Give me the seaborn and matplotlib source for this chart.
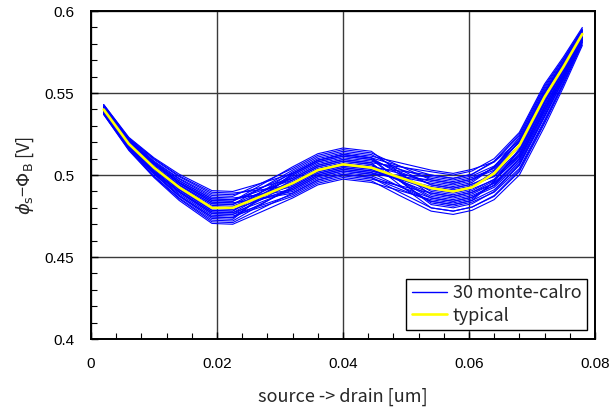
import numpy as np
import pandas as pd
import matplotlib
matplotlib.use("Agg")
import matplotlib.pyplot as plt
from matplotlib.lines import Line2D
from matplotlib.ticker import MultipleLocator
import seaborn as sns

# position along the channel [um]
x_pos = [0.002, 0.006, 0.010, 0.014, 0.0192, 0.0225, 0.027, 0.032, 0.036, 0.040,
         0.0445, 0.049, 0.054, 0.0575, 0.0605, 0.064, 0.068, 0.072, 0.075, 0.078]

# typical device
typical = [0.5400, 0.5190, 0.5045, 0.4925, 0.4800, 0.4800, 0.4870, 0.4950, 0.5030, 0.5065,
           0.5045, 0.4985, 0.4920, 0.4900, 0.4925, 0.5010, 0.5180, 0.5475, 0.5660, 0.5860]

# 30 monte-carlo samples
mc_runs = [
    [0.5410, 0.5205, 0.5070, 0.4955, 0.4845, 0.4840, 0.4920, 0.5010, 0.5090, 0.5125, 0.5105, 0.5055, 0.5000, 0.4980, 0.5005, 0.5080, 0.5240, 0.5535, 0.5705, 0.5890],
    [0.5380, 0.5165, 0.5010, 0.4875, 0.4745, 0.4740, 0.4825, 0.4920, 0.5000, 0.5035, 0.5015, 0.4930, 0.4840, 0.4820, 0.4845, 0.4910, 0.5060, 0.5355, 0.5580, 0.5820],
    [0.5405, 0.5200, 0.5055, 0.4940, 0.4825, 0.4820, 0.4920, 0.5030, 0.5110, 0.5145, 0.5125, 0.5035, 0.4940, 0.4920, 0.4945, 0.5005, 0.5150, 0.5445, 0.5640, 0.5850],
    [0.5370, 0.5155, 0.4990, 0.4855, 0.4715, 0.4710, 0.4795, 0.4890, 0.4970, 0.5005, 0.4985, 0.4895, 0.4800, 0.4780, 0.4805, 0.4870, 0.5020, 0.5315, 0.5550, 0.5800],
    [0.5425, 0.5220, 0.5095, 0.4990, 0.4885, 0.4880, 0.4925, 0.4980, 0.5060, 0.5095, 0.5075, 0.5050, 0.5020, 0.5000, 0.5025, 0.5100, 0.5260, 0.5555, 0.5720, 0.5900],
    [0.5390, 0.5180, 0.5025, 0.4900, 0.4775, 0.4770, 0.4865, 0.4970, 0.5050, 0.5085, 0.5065, 0.4970, 0.4870, 0.4850, 0.4875, 0.4935, 0.5080, 0.5375, 0.5595, 0.5830],
    [0.5415, 0.5210, 0.5075, 0.4965, 0.4855, 0.4850, 0.4885, 0.4930, 0.5010, 0.5045, 0.5025, 0.4975, 0.4920, 0.4900, 0.4925, 0.5025, 0.5210, 0.5505, 0.5680, 0.5870],
    [0.5390, 0.5175, 0.5020, 0.4895, 0.4765, 0.4760, 0.4815, 0.4880, 0.4960, 0.4995, 0.4975, 0.4935, 0.4890, 0.4870, 0.4895, 0.4965, 0.5120, 0.5415, 0.5620, 0.5840],
    [0.5400, 0.5190, 0.5045, 0.4925, 0.4805, 0.4800, 0.4895, 0.5000, 0.5080, 0.5115, 0.5095, 0.4965, 0.4830, 0.4810, 0.4835, 0.4895, 0.5040, 0.5335, 0.5565, 0.5810],
    [0.5420, 0.5220, 0.5085, 0.4980, 0.4875, 0.4870, 0.4950, 0.5040, 0.5120, 0.5155, 0.5135, 0.5055, 0.4970, 0.4950, 0.4975, 0.5045, 0.5200, 0.5495, 0.5680, 0.5880],
    [0.5375, 0.5160, 0.4995, 0.4860, 0.4725, 0.4720, 0.4820, 0.4930, 0.5010, 0.5045, 0.5025, 0.4990, 0.4950, 0.4930, 0.4955, 0.5050, 0.5230, 0.5525, 0.5695, 0.5880],
    [0.5410, 0.5200, 0.5065, 0.4950, 0.4835, 0.4830, 0.4860, 0.4900, 0.4980, 0.5015, 0.4995, 0.4930, 0.4860, 0.4840, 0.4865, 0.4940, 0.5100, 0.5395, 0.5605, 0.5830],
    [0.5395, 0.5180, 0.5035, 0.4910, 0.4785, 0.4780, 0.4880, 0.4990, 0.5070, 0.5105, 0.5085, 0.5035, 0.4980, 0.4960, 0.4985, 0.5040, 0.5180, 0.5475, 0.5660, 0.5860],
    [0.5430, 0.5230, 0.5105, 0.5005, 0.4905, 0.4900, 0.4950, 0.5010, 0.5090, 0.5125, 0.5105, 0.5005, 0.4900, 0.4880, 0.4905, 0.4975, 0.5130, 0.5425, 0.5625, 0.5840],
    [0.5385, 0.5170, 0.5015, 0.4885, 0.4755, 0.4750, 0.4805, 0.4870, 0.4950, 0.4985, 0.4965, 0.4875, 0.4780, 0.4760, 0.4785, 0.4850, 0.5000, 0.5295, 0.5535, 0.5790],
    [0.5400, 0.5195, 0.5050, 0.4935, 0.4815, 0.4810, 0.4880, 0.4960, 0.5040, 0.5075, 0.5055, 0.5010, 0.4960, 0.4940, 0.4965, 0.5050, 0.5220, 0.5515, 0.5690, 0.5880],
    [0.5380, 0.5160, 0.5005, 0.4870, 0.4735, 0.4730, 0.4865, 0.5010, 0.5090, 0.5125, 0.5105, 0.4965, 0.4820, 0.4800, 0.4825, 0.4900, 0.5060, 0.5355, 0.5580, 0.5820],
    [0.5420, 0.5215, 0.5080, 0.4975, 0.4865, 0.4860, 0.4880, 0.4910, 0.4990, 0.5025, 0.5005, 0.5000, 0.4990, 0.4970, 0.4995, 0.5055, 0.5200, 0.5495, 0.5675, 0.5870],
    [0.5400, 0.5185, 0.5040, 0.4915, 0.4795, 0.4790, 0.4850, 0.4920, 0.5000, 0.5035, 0.5015, 0.4975, 0.4930, 0.4910, 0.4935, 0.4995, 0.5140, 0.5435, 0.5635, 0.5850],
    [0.5410, 0.5205, 0.5070, 0.4955, 0.4845, 0.4840, 0.4940, 0.5050, 0.5130, 0.5165, 0.5145, 0.5015, 0.4880, 0.4860, 0.4885, 0.4950, 0.5100, 0.5395, 0.5605, 0.5830],
    [0.5370, 0.5150, 0.4985, 0.4845, 0.4705, 0.4700, 0.4775, 0.4860, 0.4940, 0.4975, 0.4955, 0.4905, 0.4850, 0.4830, 0.4855, 0.4960, 0.5150, 0.5445, 0.5640, 0.5850],
    [0.5405, 0.5200, 0.5055, 0.4940, 0.4825, 0.4820, 0.4895, 0.4980, 0.5060, 0.5095, 0.5075, 0.4940, 0.4800, 0.4780, 0.4805, 0.4875, 0.5030, 0.5325, 0.5560, 0.5810],
    [0.5390, 0.5175, 0.5020, 0.4895, 0.4765, 0.4760, 0.4850, 0.4950, 0.5030, 0.5065, 0.5045, 0.5025, 0.5000, 0.4980, 0.5005, 0.5085, 0.5250, 0.5545, 0.5710, 0.5890],
    [0.5430, 0.5225, 0.5100, 0.4995, 0.4895, 0.4890, 0.4910, 0.4940, 0.5020, 0.5055, 0.5035, 0.4965, 0.4890, 0.4870, 0.4895, 0.4950, 0.5090, 0.5385, 0.5595, 0.5820],
    [0.5380, 0.5165, 0.5010, 0.4875, 0.4745, 0.4740, 0.4865, 0.5000, 0.5080, 0.5115, 0.5095, 0.5020, 0.4940, 0.4920, 0.4945, 0.4990, 0.5120, 0.5415, 0.5620, 0.5840],
    [0.5410, 0.5200, 0.5065, 0.4950, 0.4835, 0.4830, 0.4855, 0.4890, 0.4970, 0.5005, 0.4985, 0.4915, 0.4840, 0.4820, 0.4845, 0.4960, 0.5160, 0.5455, 0.5650, 0.5860],
    [0.5395, 0.5180, 0.5035, 0.4910, 0.4785, 0.4780, 0.4895, 0.5020, 0.5100, 0.5135, 0.5115, 0.5075, 0.5030, 0.5010, 0.5035, 0.5080, 0.5210, 0.5505, 0.5685, 0.5880],
    [0.5415, 0.5210, 0.5075, 0.4965, 0.4855, 0.4850, 0.4905, 0.4970, 0.5050, 0.5085, 0.5065, 0.4965, 0.4860, 0.4840, 0.4865, 0.4925, 0.5070, 0.5365, 0.5585, 0.5820],
    [0.5390, 0.5180, 0.5025, 0.4900, 0.4775, 0.4770, 0.4835, 0.4910, 0.4990, 0.5025, 0.5005, 0.4990, 0.4970, 0.4950, 0.4975, 0.5030, 0.5170, 0.5465, 0.5655, 0.5860],
    [0.5400, 0.5190, 0.5045, 0.4925, 0.4805, 0.4800, 0.4865, 0.4940, 0.5020, 0.5055, 0.5035, 0.4975, 0.4910, 0.4890, 0.4915, 0.4970, 0.5110, 0.5405, 0.5610, 0.5830],
]

x_ticks = [0, 0.02, 0.04, 0.06, 0.08]
x_tick_labels = ["0", "0.02", "0.04", "0.06", "0.08"]
y_ticks = [0.4, 0.45, 0.5, 0.55, 0.6]
y_tick_labels = ["0.4", "0.45", "0.5", "0.55", "0.6"]

rows = []
for run_id, run in enumerate(mc_runs):
    for xv, yv in zip(x_pos, run):
        rows.append({"run": run_id, "x": xv, "phi": yv})
mc_df = pd.DataFrame(rows)
typ_df = pd.DataFrame({"x": x_pos, "phi": typical})

sns.set_theme(style="white")
plt.rcParams["font.family"] = ["Noto Sans CJK JP", "DejaVu Sans"]
plt.rcParams["mathtext.fontset"] = "dejavusans"

fig = plt.figure(figsize=(6.13, 4.09), dpi=100)
ax = fig.add_axes([0.1485, 0.171, 0.822, 0.802])

ax.grid(True, which="major", color="#3a3a3a", linewidth=1.0)
ax.set_axisbelow(True)

sns.lineplot(data=mc_df, x="x", y="phi", units="run", estimator=None,
             color="#0000ff", linewidth=0.8, ax=ax, legend=False)
sns.lineplot(data=typ_df, x="x", y="phi", color="#ffff00", linewidth=1.9,
             ax=ax, legend=False)

ax.set_xlim(0, 0.08)
ax.set_ylim(0.4, 0.6)
ax.set_xticks(x_ticks)
ax.set_xticklabels(x_tick_labels, fontfamily="Liberation Sans", fontsize=11)
ax.set_yticks(y_ticks)
ax.set_yticklabels(y_tick_labels, fontfamily="Liberation Sans", fontsize=11)
ax.xaxis.set_minor_locator(MultipleLocator(0.004))
ax.yaxis.set_minor_locator(MultipleLocator(0.01))
ax.tick_params(which="both", direction="in", colors="black", left=True, bottom=True,
               right=False, top=False)
ax.tick_params(which="major", length=5, width=1, pad=12)
ax.tick_params(which="minor", length=4, width=0.8)
ax.tick_params(axis="x", which="major", pad=13)

for side in ["left", "right", "top", "bottom"]:
    ax.spines[side].set_visible(True)
    ax.spines[side].set_color("black")
    ax.spines[side].set_linewidth(1.4)

ax.set_xlabel("source -> drain [um]", fontsize=13, labelpad=12)
ax.set_ylabel("$\\phi_{\\rm s}$−$\\Phi_{\\rm B}$ [V]", fontsize=13, labelpad=6)

handles = [Line2D([0], [0], color="#0000ff", linewidth=1.0),
           Line2D([0], [0], color="#ffff00", linewidth=1.9)]
leg = ax.legend(handles, ["30 monte-calro", "typical"], loc="lower right",
                bbox_to_anchor=(0.984, 0.027), fontsize=13, frameon=True, fancybox=False,
                framealpha=1, edgecolor="black", handlelength=1.95, handletextpad=0.33,
                borderpad=0.3, labelspacing=0.25, borderaxespad=0)
leg.get_frame().set_linewidth(1.0)

fig.savefig("out.png", dpi=100)
